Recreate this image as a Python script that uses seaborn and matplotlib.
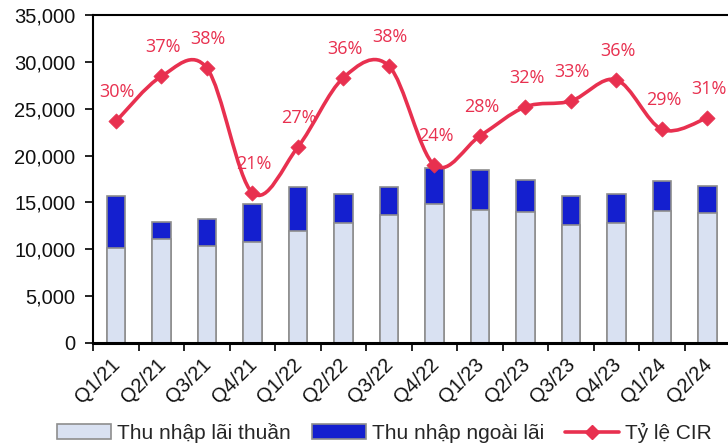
import numpy as np
import pandas as pd
import matplotlib
matplotlib.use("Agg")
import matplotlib.pyplot as plt
import seaborn as sns
from matplotlib.path import Path
from matplotlib.patches import PathPatch, Patch
from matplotlib.lines import Line2D
from matplotlib.ticker import FuncFormatter

quarters = ["Q1/21", "Q2/21", "Q3/21", "Q4/21", "Q1/22", "Q2/22", "Q3/22",
            "Q4/22", "Q1/23", "Q2/23", "Q3/23", "Q4/23", "Q1/24", "Q2/24"]
net_interest = [10100, 11070, 10390, 10740, 11950, 12770, 13620,
                14800, 14190, 14010, 12590, 12770, 14090, 13840]
non_interest = [5590, 1810, 2840, 4090, 4730, 3160, 3060,
                3840, 4310, 3420, 3130, 3160, 3160, 2880]
cir = [30.4, 36.6, 37.7, 20.6, 26.9, 36.4, 38.0,
       24.4, 28.4, 32.4, 33.2, 36.1, 29.3, 30.9]

LIGHT = "#D9E1F2"
DARK = "#141FCF"
RED = "#E8304F"
EDGE = "#8E8E8E"

df = pd.DataFrame({"q": quarters, "ni": net_interest, "nn": non_interest, "cir": cir})
df["total"] = df["ni"] + df["nn"]

sns.set_theme(style="white")
plt.rcParams["font.family"] = ["Liberation Sans", "DejaVu Sans"]

fig = plt.figure(figsize=(7.28, 4.48), dpi=100)
ax = fig.add_axes([0.128, 0.2344, 0.875, 0.7321])

sns.barplot(data=df, x="q", y="total", color=DARK, saturation=1, width=0.4,
            edgecolor=EDGE, linewidth=1.2, ax=ax)
sns.barplot(data=df, x="q", y="ni", color=LIGHT, saturation=1, width=0.4,
            edgecolor=EDGE, linewidth=1.2, ax=ax)

ax.set_xlim(-0.5, len(quarters) - 0.5)
ax.set_ylim(0, 35000)
ax.set_yticks(np.arange(0, 35001, 5000))
ax.yaxis.set_major_formatter(FuncFormatter(lambda v, p: f"{int(v):,}"))
ax.set_xlabel("")
ax.set_ylabel("")
ax.tick_params(axis="y", labelsize=14.5, length=6, width=1.2, color="black",
               left=True, direction="out", pad=7, labelcolor="#111111")
# category boundary ticks on x
ax.set_xticks(np.arange(len(quarters)))
ax.set_xticklabels([])
ax.set_xticks(np.arange(-0.5, len(quarters), 1.0), minor=True)
ax.tick_params(axis="x", which="major", length=0, pad=2)
ax.tick_params(axis="x", which="minor", length=6, width=1.2, color="black",
               bottom=True, direction="out")
for i, q in enumerate(quarters):
    ax.text(i - 0.12, -1300, q, rotation=45, ha="right", va="top",
            rotation_mode="anchor", fontsize=14.5, color="#111111",
            transform=ax.transData)

for s in ["left", "top"]:
    ax.spines[s].set_color("black")
    ax.spines[s].set_linewidth(1.5)
ax.spines["bottom"].set_color("black")
ax.spines["bottom"].set_linewidth(2.2)
ax.spines["right"].set_visible(False)

# CIR line on hidden secondary axis
ax2 = ax.twinx()
ax2.set_ylim(0, 45)
ax2.set_axis_off()

x = np.arange(len(cir), dtype=float)
y = np.array(cir, dtype=float)
verts = [(x[0], y[0])]
codes = [Path.MOVETO]
n = len(x)
for i in range(n - 1):
    p0 = np.array([x[max(i - 1, 0)], y[max(i - 1, 0)]])
    p1 = np.array([x[i], y[i]])
    p2 = np.array([x[i + 1], y[i + 1]])
    p3 = np.array([x[min(i + 2, n - 1)], y[min(i + 2, n - 1)]])
    c1 = p1 + (p2 - p0) / 6.0
    c2 = p2 - (p3 - p1) / 6.0
    verts += [tuple(c1), tuple(c2), tuple(p2)]
    codes += [Path.CURVE4] * 3
ax2.add_patch(PathPatch(Path(verts, codes), facecolor="none", edgecolor=RED,
                        linewidth=2.6, capstyle="round", joinstyle="round", zorder=3))
sns.scatterplot(x=x, y=y, marker="D", s=60, color=RED, edgecolor=RED,
                linewidth=0.5, ax=ax2, zorder=4, legend=False)
for xi, yi in zip(x, cir):
    ax2.annotate(f"{round(yi):d}%", (xi, yi), xytext=(1, 21),
                 textcoords="offset points", ha="center", va="center",
                 fontsize=13, color=RED, family=["Open Sans", "DejaVu Sans"])

handles = [
    Patch(facecolor=LIGHT, edgecolor=EDGE, linewidth=1.2),
    Patch(facecolor=DARK, edgecolor=EDGE, linewidth=1.2),
    Line2D([0], [0], color=RED, linewidth=2.6, marker="D", markersize=7),
]
labels = ["Thu nhập lãi thuần", "Thu nhập ngoài lãi", "Tỷ lệ CIR"]
fig.legend(handles, labels, loc="center", bbox_to_anchor=(0.528, 0.034),
           ncol=3, frameon=False, fontsize=15, handlelength=2.6,
           handleheight=0.7, handletextpad=0.3, columnspacing=1.0)

fig.savefig("out.png", dpi=100)
